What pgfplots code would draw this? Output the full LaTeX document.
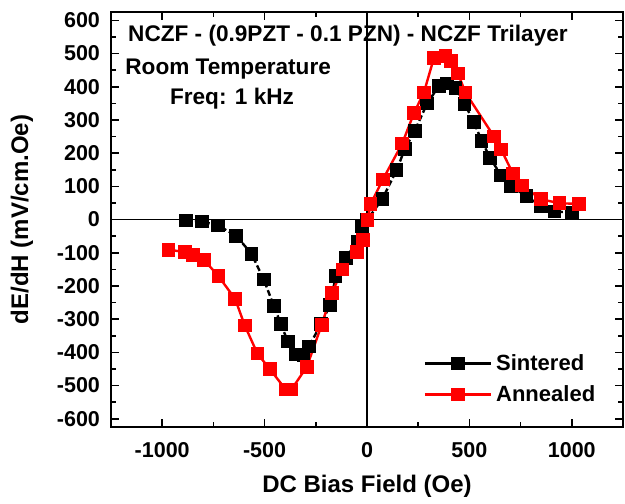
\documentclass[border=0pt]{standalone}
\usepackage{fontspec}
\setmainfont{Liberation Sans}
\usepackage{pgfplots}
\pgfplotsset{compat=1.18}

\begin{document}
\begin{tikzpicture}
\begin{axis}[
  scale only axis,
  width=256pt, height=207.5pt,
  xmin=-1250, xmax=1250,
  ymin=-625, ymax=625,
  clip=false,
  xtick={-1000,-500,0,500,1000}, minor x tick num=1,
  ytick={-600,-500,...,600}, minor y tick num=1,
  tick align=inside,
  major tick length=4pt, minor tick length=2.5pt,
  axis line style={line width=1pt},
  every tick/.style={black, line width=0.8pt},
  /pgf/number format/assume math mode=true,
  /pgf/number format/1000 sep={},
  tick label style={font=\fontsize{10.75}{12}\selectfont\bfseries},
  xticklabel style={yshift=-4pt},
  yticklabel style={xshift=-2pt},
  xlabel={DC Bias Field (Oe)},
  ylabel={dE/dH (mV/cm.Oe)},
  every axis x label/.style={at={(axis description cs:0.5,0)}, yshift=-29.5pt, anchor=center,
    font=\fontsize{12}{14}\selectfont\bfseries},
  every axis y label/.style={at={(axis description cs:0,0.5)}, xshift=-44.5pt, rotate=90, anchor=center,
    font=\fontsize{12}{14}\selectfont\bfseries},
  legend style={at={(0.966,0.035)}, anchor=south east, draw=none, fill=none,
    font=\fontsize{11}{13}\selectfont\bfseries, row sep=2pt},
  legend cell align=left,
  legend image code/.code={\draw[mark repeat=2,mark phase=2,#1,solid]
    plot coordinates {(0pt,0pt) (16.5pt,0pt) (33pt,0pt)};},
]
  % zero lines
  \draw[line width=0.8pt] (axis cs:0,-625) -- (axis cs:0,625);
  \draw[line width=0.8pt] (axis cs:-1250,0) -- (axis cs:1250,0);

  \addplot[black, line width=1.2pt, dash pattern=on 3pt off 1.5pt,
    mark=square*, mark size=2.8pt, mark options={solid}]
  coordinates {
    (-884,-3) (-806,-6) (-727,-18) (-639,-49) (-564,-103) (-504,-181)
    (-455,-260) (-421,-314) (-387,-367) (-348,-407) (-311,-410) (-283,-382)
    (-225,-315) (-180,-257) (-153,-171) (-104,-116) (-47,-66) (-23,-21)
    (1,-1) (75,62) (145,149) (185,213) (233,267) (294,350) (351,402)
    (392,410) (433,397) (477,348) (522,293) (560,237) (601,186) (655,132)
    (704,99) (779,71) (850,40) (916,24) (1000,21)
  };
  \addlegendentry{Sintered}

  \addplot[red, line width=1.2pt, mark=square*, mark size=2.8pt]
  coordinates {
    (-969,-91) (-889,-98) (-849,-106) (-795,-122) (-725,-171) (-644,-239)
    (-597,-319) (-535,-404) (-475,-450) (-397,-512) (-369,-512) (-294,-444)
    (-221,-317) (-172,-222) (-120,-151) (-50,-98) (-21,-61) (3,-1)
    (18,47) (78,121) (172,229) (229,320) (278,383) (327,487) (384,493)
    (411,477) (444,440) (481,382) (620,250) (655,211) (712,139) (758,102)
    (850,61) (940,49) (1034,47)
  };
  \addlegendentry{Annealed}

  \node[anchor=base, font=\fontsize{11.3}{13}\selectfont\bfseries]
    at (axis cs:-93,537) {NCZF - (0.9PZT - 0.1 PZN) - NCZF Trilayer};
  \node[anchor=base, font=\fontsize{11.3}{13}\selectfont\bfseries]
    at (axis cs:-678,437) {Room Temperature};
  \node[anchor=base, font=\fontsize{11.3}{13}\selectfont\bfseries]
    at (axis cs:-659,347) {Freq: 1 kHz};

  % page extent
  \path (rel axis cs:0,0) ++(-55.5pt,-38pt);
  \path (rel axis cs:1,1) ++(1pt,6pt);
\end{axis}
\end{tikzpicture}
\end{document}
